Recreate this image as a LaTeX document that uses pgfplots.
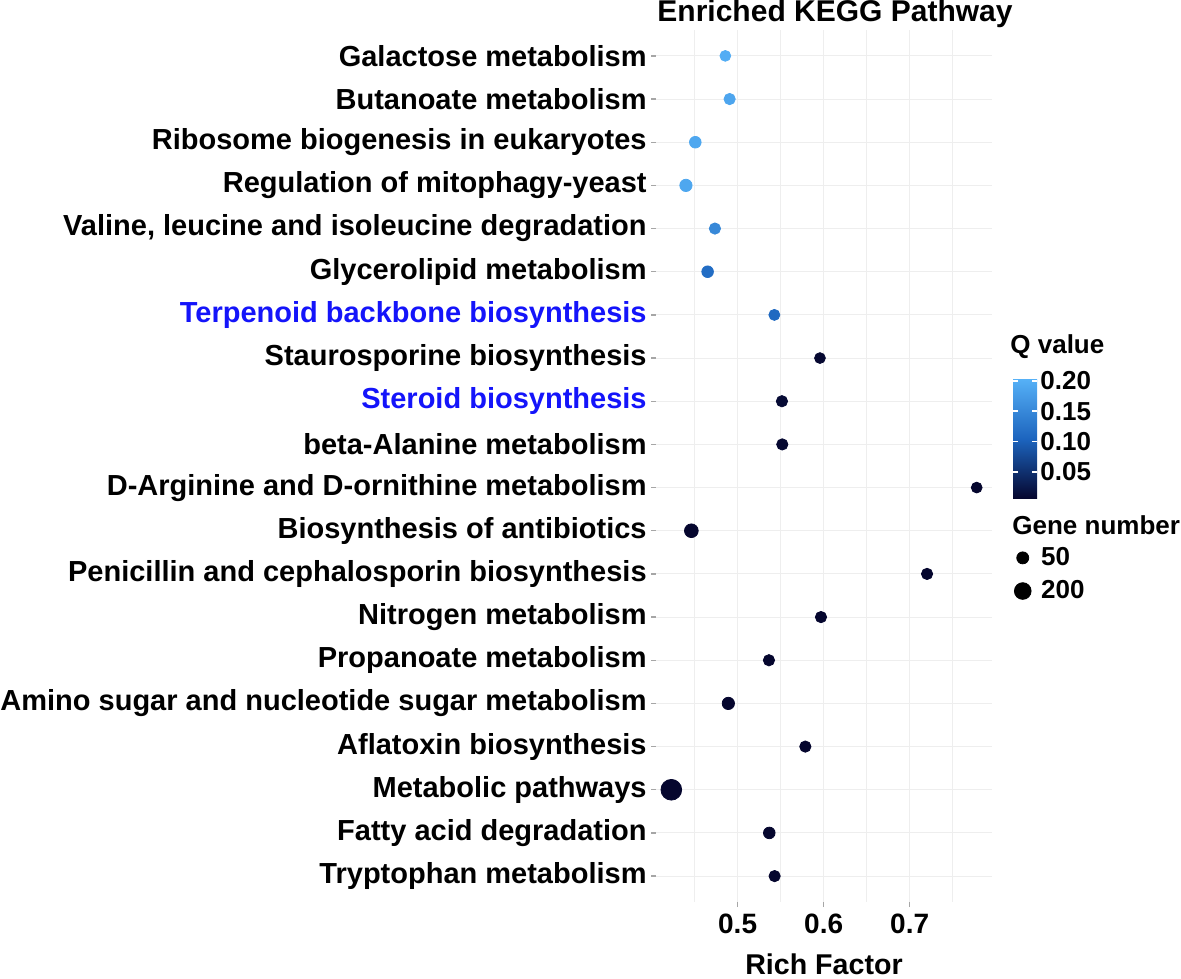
\documentclass[border=0pt]{standalone}
\usepackage{fontspec}
\setmainfont{Liberation Sans}
\usepackage{pgfplots}
\usepackage{pgfplotstable}
\pgfplotsset{compat=1.18}
\definecolor{kblue}{RGB}{20,20,250}
\pgfplotstableread{
y rf q n
20 0.4857 0.198 20
19 0.4907 0.188 32
18 0.4508 0.190 40
17 0.4399 0.190 58
16 0.4736 0.150 32
15 0.4651 0.115 40
14 0.5427 0.110 25
13 0.5957 0.008 20
12 0.5515 0.010 32
11 0.5519 0.008 32
10 0.7779 0.006 20
9 0.4462 0.006 99
8 0.7202 0.006 32
7 0.5969 0.006 32
6 0.5364 0.006 32
5 0.4892 0.006 58
4 0.5787 0.006 32
3 0.4229 0.006 366
2 0.5368 0.006 40
1 0.5430 0.006 32
}\kegg
\begin{document}
\begin{tikzpicture}
\useasboundingbox (0,0) rectangle (590.5pt,489pt);
\begin{axis}[
  at={(328pt,38pt)}, anchor=south west,
  width=168pt, height=436pt, scale only axis,
  xmin=0.4051, xmax=0.7957, ymin=0.4, ymax=20.6,
  axis line style={draw=none},
  xtick={0.5,0.6,0.7}, minor xtick={0.45,0.55,0.65,0.75},
  ytick={1,...,20},
  yticklabels={Tryptophan metabolism, Fatty acid degradation, Metabolic pathways, Aflatoxin biosynthesis, Amino sugar and nucleotide sugar metabolism, Propanoate metabolism, Nitrogen metabolism, Penicillin and cephalosporin biosynthesis, Biosynthesis of antibiotics, D-Arginine and D-ornithine metabolism, beta-Alanine metabolism, {\color{kblue}Steroid biosynthesis}, Staurosporine biosynthesis, {\color{kblue}Terpenoid backbone biosynthesis}, Glycerolipid metabolism, {Valine, leucine and isoleucine degradation}, Regulation of mitophagy-yeast, Ribosome biogenesis in eukaryotes, Butanoate metabolism, Galactose metabolism},
  grid=both,
  major grid style={gray!13, line width=0.5pt},
  minor grid style={gray!13, line width=0.5pt},
  tick align=outside, major tick length=2.5pt, minor tick length=0pt,
  tick style={gray!70, line width=0.7pt},
  tick pos=left,
  /pgf/number format/assume math mode=true,
  xticklabel style={font=\bfseries\fontsize{14}{16}\selectfont, /pgf/number format/.cd, fixed, fixed zerofill, precision=1},
  yticklabel style={font=\bfseries\fontsize{14.5}{17}\selectfont, inner sep=2pt},
  xlabel={\bfseries Rich Factor},
  xlabel style={font=\fontsize{14.3}{16}\selectfont, at={(axis description cs:0.5,0)}, anchor=base, yshift=-36.3pt},
  colormap={qmap}{rgb255(0)=(5,5,45); rgb255(0.5)=(28,100,190); rgb255(1)=(86,177,247)},
  point meta min=0.005, point meta max=0.203,
  colorbar,
  colorbar style={
    at={(498pt,239.5pt)}, anchor=south west,
    width=12pt, height=60pt, scale only axis,
    ytick={0.05,0.10,0.15,0.20},
    ytick pos=both, yticklabel pos=right,
    tick align=inside, major tick length=2.5pt,
    tick style={white, line width=0.8pt},
    axis line style={draw=none},
    /pgf/number format/assume math mode=true,
    yticklabel style={font=\bfseries\fontsize{13}{15}\selectfont, inner xsep=1.5pt, /pgf/number format/.cd, fixed, fixed zerofill, precision=2},
  },
  legend style={at={(1.0476,0.4164)}, anchor=north west, draw=none, fill=none,
    font=\bfseries\fontsize{13}{15}\selectfont, row sep=2pt},
  legend cell align=left,
  legend image code/.code={\draw[#1] plot coordinates {(0pt,0pt)}; \path (0pt,0pt) (7pt,0pt);},
]
\addplot[scatter, only marks, mark=*, forget plot,
  point meta=explicit,
  scatter/use mapped color={draw=mapped color, fill=mapped color},
  visualization depends on={sqrt(144+0.9*(\thisrow{n}-50))/4 \as \msize},
  scatter/@pre marker code/.append style={/tikz/mark size=\msize pt},
] table[x=rf, y=y, meta=q] {\kegg};
\addlegendimage{only marks, mark=*, mark size=3pt, black}
\addlegendentry{50}
\addlegendimage{only marks, mark=*, mark size=4.18pt, black}
\addlegendentry{200}
\end{axis}
\node[anchor=base, font=\bfseries\fontsize{15}{17}\selectfont, inner sep=0pt] at (417.5pt,478.2pt) {Enriched KEGG Pathway};
\node[anchor=base west, font=\bfseries\fontsize{13}{15}\selectfont, inner sep=0pt] at (505pt,312pt) {Q value};
\node[anchor=base west, font=\bfseries\fontsize{13}{15}\selectfont, inner sep=0pt] at (506pt,221.5pt) {Gene number};
\end{tikzpicture}
\end{document}
